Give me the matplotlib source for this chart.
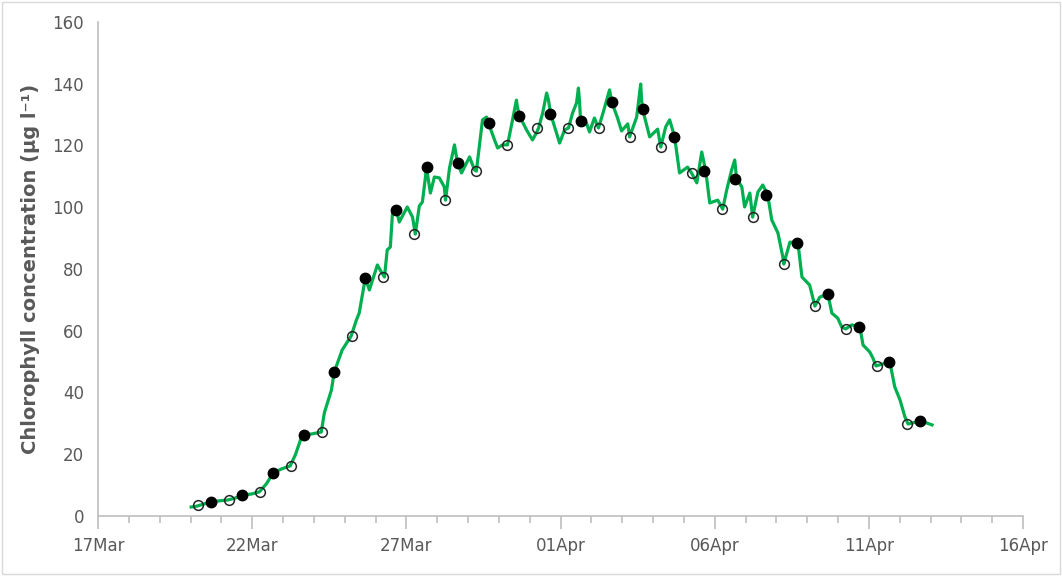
import numpy as np
import pandas as pd
import matplotlib
matplotlib.use('Agg')
import matplotlib.pyplot as plt
import matplotlib.dates as mdates
from matplotlib.patches import Rectangle

start = pd.Timestamp('2020-03-17')

# sensor trace: days since 17 Mar 00:00 and chlorophyll (ug/l)
line_days = [3.02, 3.21, 3.44, 3.67, 3.93, 4.22, 4.45, 4.68, 4.97, 5.23,
             5.46, 5.68, 5.94, 6.23, 6.40, 6.59, 6.66, 6.95, 7.24, 7.34,
             7.44, 7.57, 7.66, 7.92, 8.21, 8.38, 8.47, 8.67, 8.80, 9.06,
             9.19, 9.29, 9.38, 9.48, 9.55, 9.68, 9.77, 10.03, 10.20, 10.29,
             10.42, 10.52, 10.62, 10.65, 10.78, 10.91, 11.07, 11.23, 11.27, 11.40,
             11.56, 11.66, 11.79, 12.05, 12.21, 12.27, 12.47, 12.60, 12.66, 12.86,
             12.96, 13.12, 13.28, 13.41, 13.57, 13.60, 13.67, 13.90, 14.09, 14.22,
             14.29, 14.42, 14.55, 14.61, 14.68, 14.87, 14.97, 15.13, 15.26, 15.39,
             15.52, 15.58, 15.62, 15.65, 15.84, 15.94, 16.10, 16.23, 16.36, 16.59,
             16.66, 16.85, 16.98, 17.18, 17.24, 17.47, 17.60, 17.63, 17.66, 17.89,
             18.15, 18.25, 18.41, 18.54, 18.70, 18.86, 19.12, 19.25, 19.42, 19.58,
             19.71, 19.84, 20.10, 20.26, 20.39, 20.55, 20.65, 20.71, 20.88, 20.97,
             21.14, 21.23, 21.40, 21.56, 21.72, 21.85, 22.05, 22.21, 22.24, 22.44,
             22.70, 22.83, 23.08, 23.25, 23.41, 23.67, 23.80, 23.99, 24.12, 24.25,
             24.45, 24.71, 24.81, 25.03, 25.13, 25.23, 25.68, 25.84, 26.01, 26.17,
             26.27, 26.69, 27.05]
line_chl = [2.9, 3.2, 3.9, 4.5, 4.9, 5.2, 5.8, 6.8, 7.1, 7.8,
            10.4, 13.9, 15.2, 16.2, 19.8, 25.3, 26.2, 26.6, 27.2, 33.4,
            36.6, 40.8, 46.6, 53.8, 58.3, 63.5, 65.7, 77.1, 73.2, 81.3,
            79.0, 77.4, 86.2, 87.1, 98.1, 99.1, 95.2, 100.1, 96.8, 91.3,
            100.4, 101.7, 109.8, 113.0, 104.6, 109.8, 109.5, 106.6, 102.3, 112.7,
            120.2, 114.3, 111.1, 116.3, 112.1, 111.7, 128.3, 129.2, 127.3, 121.8,
            119.2, 120.2, 120.2, 126.6, 134.7, 132.5, 129.6, 125.0, 121.8, 124.1,
            125.7, 130.5, 137.0, 134.7, 130.2, 124.1, 120.8, 125.0, 125.7, 130.5,
            133.8, 138.6, 133.8, 127.9, 127.3, 124.4, 128.9, 125.7, 129.9, 138.0,
            134.1, 128.9, 124.7, 127.0, 122.8, 129.2, 139.9, 134.7, 131.8, 122.8,
            125.3, 119.5, 126.0, 128.3, 122.8, 111.1, 113.0, 111.1, 107.9, 117.9,
            111.7, 101.4, 102.3, 99.4, 105.6, 112.1, 115.3, 109.2, 106.6, 100.1,
            104.6, 96.8, 104.9, 107.2, 104.0, 95.9, 91.7, 83.9, 81.6, 88.7,
            88.4, 77.4, 74.8, 68.0, 70.9, 71.9, 65.7, 64.1, 61.2, 60.6,
            61.9, 61.2, 55.4, 53.1, 51.2, 48.6, 49.9, 41.8, 37.6, 32.1,
            29.8, 30.8, 29.5]

# discrete samples, one morning (open) and one afternoon (filled) per day from 20 Mar
sample_days = list(range(3, 27))
open_chl = [3.4, 5.2, 7.8, 16.2, 27.2, 58.3, 77.4, 91.3, 102.3, 111.7,
            120.2, 125.7, 125.7, 125.7, 122.8, 119.5, 111.1, 99.4, 96.8, 81.6,
            68.0, 60.6, 48.6, 29.8]
filled_chl = [4.5, 6.8, 13.9, 26.2, 46.6, 77.1, 99.1, 113.0, 114.3, 127.3,
              129.6, 130.2, 127.9, 134.1, 131.8, 122.8, 111.7, 109.2, 104.0, 88.4,
              71.9, 61.2, 49.9, 30.8]

line_t = start + pd.to_timedelta(line_days, unit='D')
open_t = start + pd.to_timedelta(sample_days, unit='D') + pd.Timedelta(hours=6)
filled_t = start + pd.to_timedelta(sample_days, unit='D') + pd.Timedelta(hours=16)

grey = '#595959'
axcol = '#bfbfbf'

fig = plt.figure(figsize=(10.62, 5.76), dpi=100)
ax = fig.add_axes([0.0923, 0.1042, 0.871, 0.8576])

ax.plot(line_t, line_chl, color='#00b050', lw=2.3, zorder=2)
ax.plot(open_t, open_chl, 'o', ms=7, mfc='none', mec='#262626', mew=1.1, zorder=3)
ax.plot(filled_t, filled_chl, 'o', ms=7.5, color='black', zorder=4)

ax.set_xlim(start, start + pd.Timedelta(days=30))
ax.set_ylim(0, 160)
ax.set_yticks(np.arange(0, 161, 20))
ax.set_xticks([start + pd.Timedelta(days=d) for d in range(0, 31, 5)])
ax.set_xticks([start + pd.Timedelta(days=d) for d in range(0, 31)], minor=True)
ax.xaxis.set_major_formatter(mdates.DateFormatter('%d%b'))

for s in ['top', 'right']:
    ax.spines[s].set_visible(False)
for s in ['left', 'bottom']:
    ax.spines[s].set_color(axcol)
    ax.spines[s].set_linewidth(1.2)

ax.tick_params(axis='x', which='major', length=9, width=1.2, color=axcol,
               labelcolor=grey, labelsize=12, pad=6)
ax.tick_params(axis='x', which='minor', length=5, width=1.2, color=axcol)
ax.tick_params(axis='y', length=0, labelcolor=grey, labelsize=12, pad=10)

ax.set_ylabel('Chlorophyll concentration (μg l⁻¹)', color=grey, fontsize=14,
              fontweight='bold', labelpad=9)

fig.patches.append(Rectangle((0.002, 0.003), 0.996, 0.994, transform=fig.transFigure,
                             fill=False, edgecolor='#d9d9d9', lw=1))

fig.savefig('out.png', dpi=100)
